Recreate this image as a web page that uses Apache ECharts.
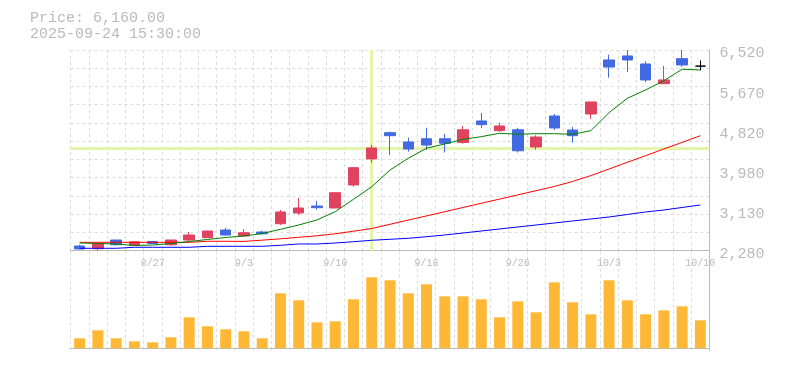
<!DOCTYPE html>
<html><head><meta charset="utf-8">
<script src="https://cdn.jsdelivr.net/npm/echarts@6/dist/echarts.min.js"></script>
<style>html,body{margin:0;padding:0;background:#fff}#c{width:785px;height:370px}</style>
</head><body><div id="c"></div>
<script>
const dates = ['8/21','8/22','8/25','8/26','8/27','8/28','8/29','9/1','9/2','9/3','9/4','9/5','9/8','9/9','9/10','9/11','9/12','9/16','9/17','9/18','9/19','9/22','9/24','9/25','9/26','9/29','9/30','10/1','10/2','10/3','10/6','10/7','10/8','10/9','10/10'];
// [open, close, low, high]
const candles = [
 [2379,2316,2310,2405],[2322,2422,2280,2449],[2506,2407,2386,2506],[2396,2468,2390,2470],
 [2474,2432,2425,2480],[2407,2506,2386,2506],[2506,2612,2485,2675],[2555,2696,2550,2700],
 [2717,2612,2600,2760],[2591,2660,2576,2738],[2675,2637,2620,2700],[2850,3098,2823,3140],
 [3077,3182,3034,3394],[3224,3189,3146,3330],[3182,3505,3180,3510],[3668,4034,3632,4040],
 [4218,4450,4139,4513],[4773,4710,4302,4795],[4577,4429,4372,4668],[4645,4513,4414,4877],
 [4645,4550,4355,4750],[4566,4835,4541,4915],[5021,4943,4873,5190],[4816,4915,4788,4985],
 [4835,4391,4355,4877],[4471,4682,4412,4718],[5126,4873,4830,5168],[4830,4710,4562,4894],
 [5168,5422,5063,5425],[6309,6161,5935,6421],[6394,6309,6056,6520],[6225,5887,5845,6282],
 [5809,5887,5805,6183],[6337,6204,6168,6520],[6180,6180,6090,6300]
];
const ma5 = [2443,2432,2422,2390,2400,2432,2474,2517,2559,2591,2643,2732,2823,2929,3104,3366,3632,3985,4232,4444,4535,4634,4689,4761,4740,4752,4752,4740,4816,5196,5500,5676,5872,6113,6098];
const ma25 = [2457,2457,2457,2457,2457,2457,2457,2479,2479,2477,2503,2531,2563,2595,2637,2692,2749,2838,2927,3015,3104,3193,3282,3370,3459,3548,3637,3742,3867,4006,4148,4287,4429,4568,4710];
const ma75 = [2331,2331,2331,2352,2352,2352,2352,2373,2373,2373,2373,2394,2422,2422,2443,2470,2500,2521,2542,2576,2612,2654,2696,2739,2781,2823,2865,2908,2950,2992,3045,3098,3140,3193,3246];
const volumes = [10000,18000,10000,7000,6000,11000,31000,22000,19000,17000,10000,55000,48000,26000,27000,49000,71000,68000,55000,64000,52000,52000,49000,31000,47000,36000,66000,46000,34000,68000,48000,34000,38000,42000,28000];
const priceTickLabels = ['2,280','3,130','3,980','4,820','5,670','6,520'];
const headerLines = ['Price: 6,160.00','2025-09-24 15:30:00'];
const cursorDate = '9/12';
const cursorPrice = 4450;

const PMIN = 2280, PMAX = 6520, PSTEP = 848;
const FONT = 'Liberation Mono';
const UP = '#e0435f', DOWN = '#4169e1';
const GRIDC = '#dcdcdc';

const candleData = candles.map((c, i) => {
  if (c[0] === c[1]) {
    return {value: c, itemStyle: {color:'#000', color0:'#000', borderColor:'#000', borderColor0:'#000', borderColorDoji:'#000'}};
  }
  return c;
});

const chart = echarts.init(document.getElementById('c'), null, {renderer:'canvas'});
chart.setOption({
  animation: false,
  backgroundColor: '#fff',
  title: {
    text: headerLines.join('\n'), left: 30, top: 10, padding: 0,
    textStyle: {fontFamily: FONT, fontSize: 15, fontWeight: 'normal', color: '#bababa', lineHeight: 16}
  },
  grid: [
    {left: 70.5, right: 75.5, top: 50, height: 200.7},
    {left: 70.5, right: 75.5, top: 250.7, height: 99.6}
  ],
  xAxis: [
    {type:'category', gridIndex:0, data: dates, boundaryGap: true,
     axisLine:{show:true, lineStyle:{color:'#bbb', width:1}},
     axisTick:{show:false},
     axisLabel:{interval:(i)=> i % 5 === 4, fontFamily: FONT, fontSize: 10, color:'#bbbbbb', margin: 8},
     splitLine:{show:true, interval:0, lineStyle:{color:GRIDC, type:[3,3]}}},
    {type:'category', gridIndex:1, data: dates, boundaryGap: true,
     axisLine:{show:true, lineStyle:{color:'#bbb', width:1}},
     axisTick:{show:false}, axisLabel:{show:false},
     splitLine:{show:true, interval:0, lineStyle:{color:GRIDC, type:[3,3]}}}
  ],
  yAxis: [
    {type:'value', gridIndex:0, position:'right', min:PMIN, max:PMAX, interval:PSTEP, scale:true,
     axisLine:{show:true, lineStyle:{color:'#bbb', width:1}},
     axisTick:{show:false}, splitLine:{show:false},
     axisLabel:{show:true, showMinLabel:true, showMaxLabel:true, margin:10, fontFamily:FONT, fontSize:15, color:'#bababa',
       verticalAlign:'top', padding:[-4,0,0,0],
       formatter:(v)=> priceTickLabels[Math.round((v-PMIN)/PSTEP)]}},
    {type:'value', gridIndex:0, position:'left', min:0, max:11, interval:1,
     axisLine:{show:false}, axisTick:{show:false}, axisLabel:{show:false},
     splitLine:{show:true, lineStyle:{color:GRIDC, type:[3,3]}}},
    {type:'value', gridIndex:1, position:'right', min:-2000, max:97600,
     axisLine:{show:true, lineStyle:{color:'#bbb', width:1}},
     axisTick:{show:false}, axisLabel:{show:false}, splitLine:{show:false}}
  ],
  series: [
    {type:'line', xAxisIndex:0, yAxisIndex:0, data:[], silent:true,
     markLine:{silent:true, symbol:'none', z:1, animation:false, label:{show:false},
       emphasis:{disabled:true},
       lineStyle:{color:'#e3f5ab', width:3, type:'solid'},
       data:[{xAxis: cursorDate}, {yAxis: cursorPrice}]}},
    {type:'line', name:'MA75', xAxisIndex:0, yAxisIndex:0, data: ma75, showSymbol:false, symbol:'none', z:3,
     lineStyle:{color:'#0000ff', width:1}},
    {type:'line', name:'MA25', xAxisIndex:0, yAxisIndex:0, data: ma25, showSymbol:false, symbol:'none', z:3,
     lineStyle:{color:'#ff0000', width:1}},
    {type:'candlestick', xAxisIndex:0, yAxisIndex:0, data: candleData, barWidth: 11, z:2,
     itemStyle:{color:UP, color0:DOWN, borderColor:UP, borderColor0:DOWN, borderWidth:1}},
    {type:'line', name:'MA5', xAxisIndex:0, yAxisIndex:0, data: ma5, showSymbol:false, symbol:'none', z:3,
     lineStyle:{color:'#008000', width:1}},
    {type:'bar', xAxisIndex:1, yAxisIndex:2, data: volumes, barWidth: 11,
     itemStyle:{color:'#ffb836'}}
  ]
});
</script>
</body></html>
